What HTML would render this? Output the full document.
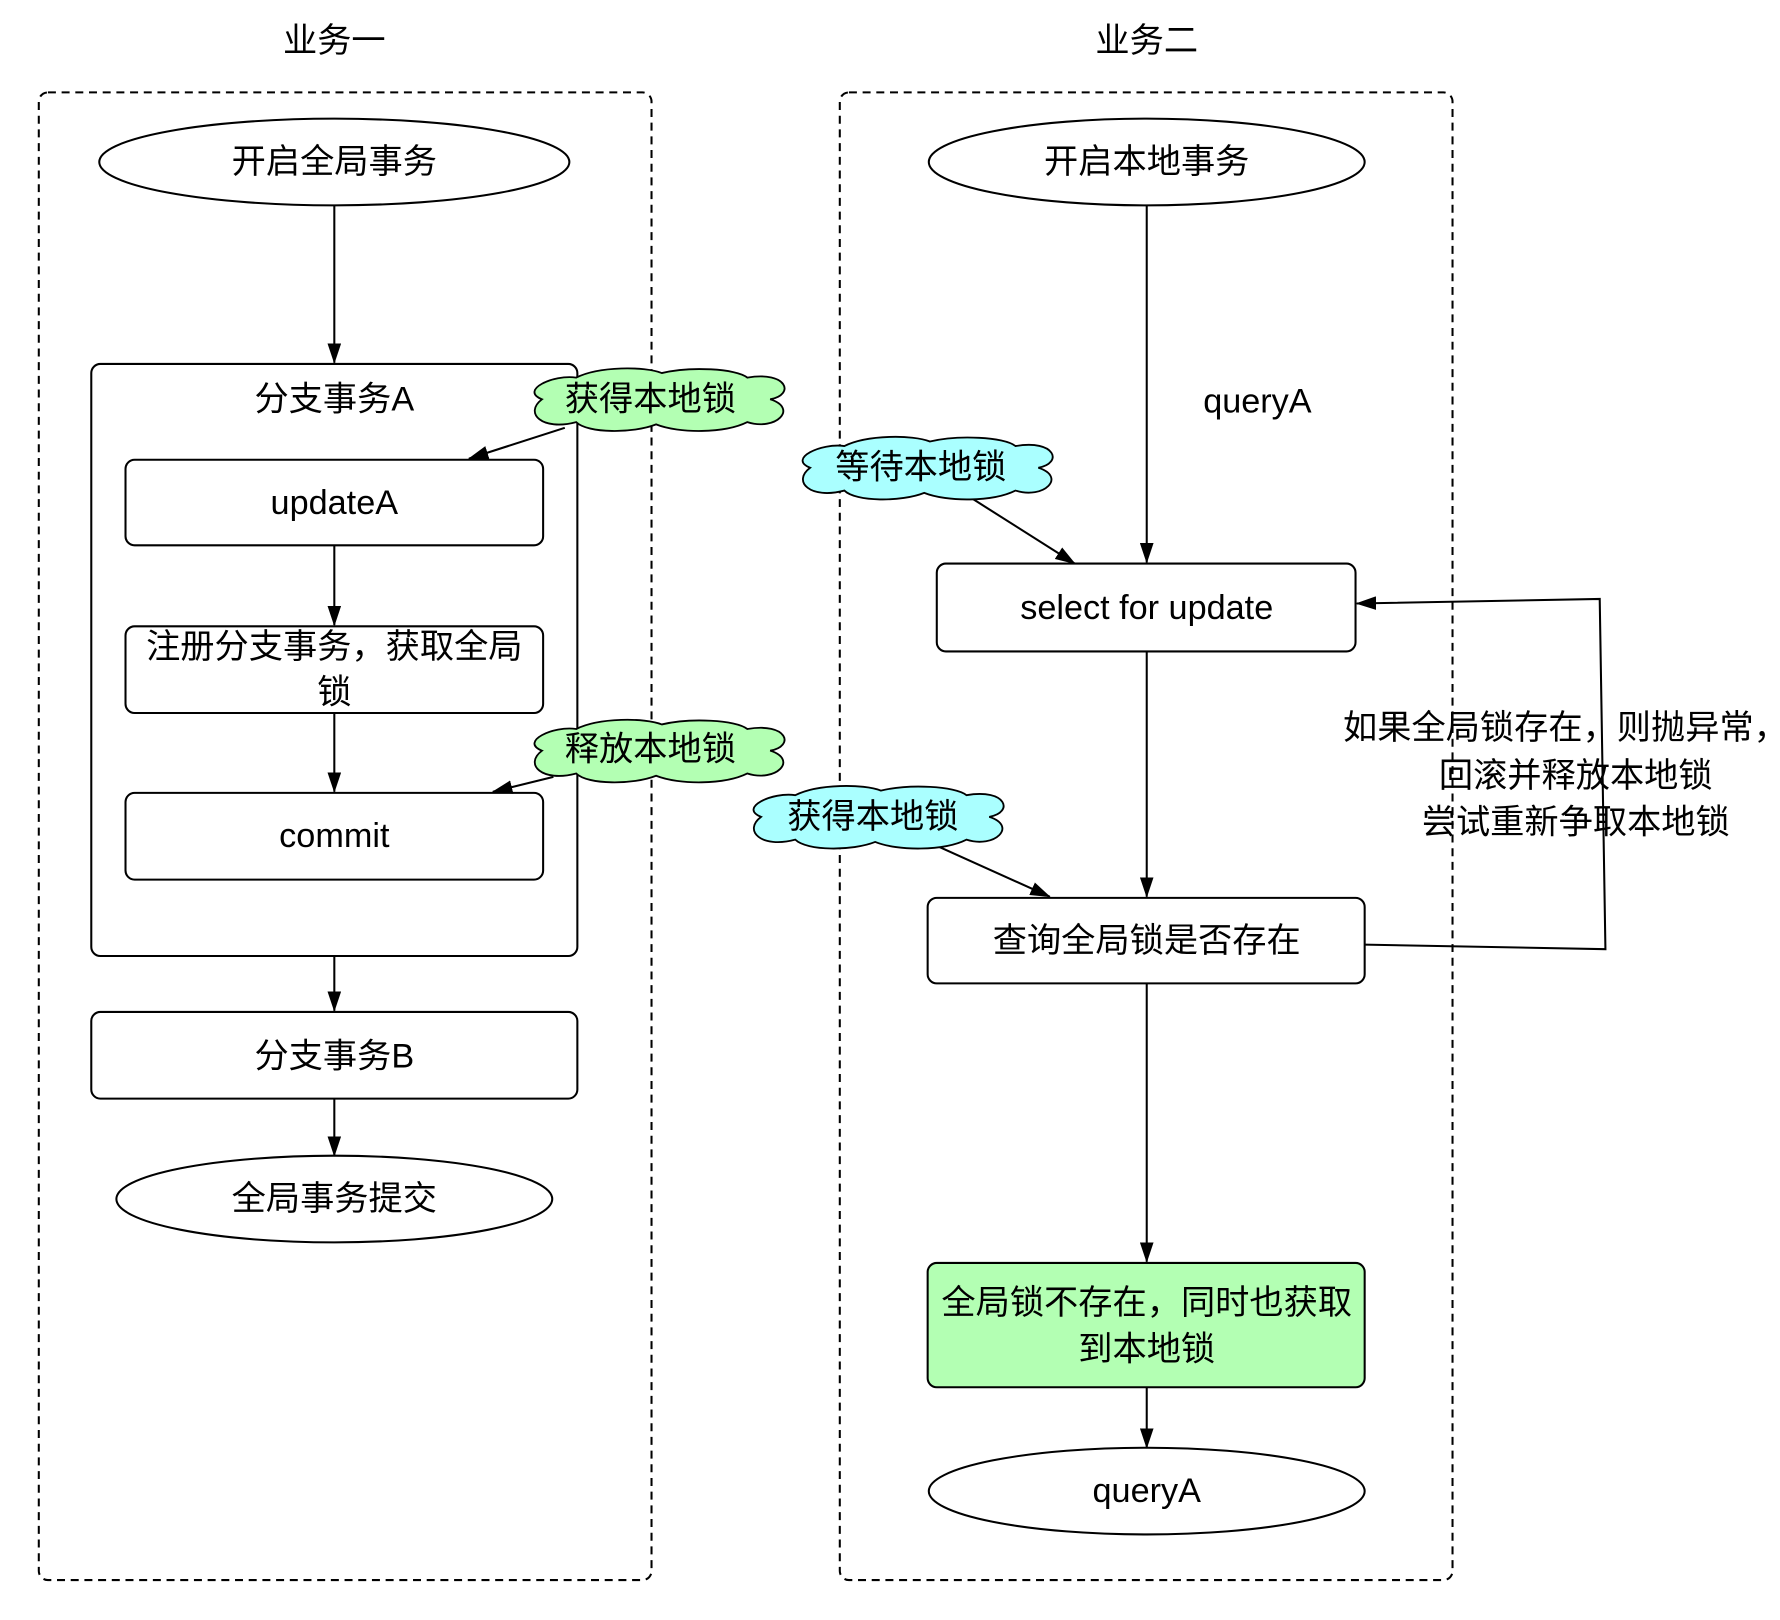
<!DOCTYPE html>
<html><head><meta charset="utf-8"><style>
html,body{margin:0;padding:0;background:#fff;}
svg{display:block;}
text{font-family:"Liberation Sans","Noto Sans CJK SC",sans-serif;font-size:30px;fill:#000;text-anchor:middle;dominant-baseline:central;}
</style></head><body>
<svg width="1780" height="1620" viewBox="0 0 1560 1420" preserveAspectRatio="none" xmlns="http://www.w3.org/2000/svg">
<defs>
<marker id="a" markerWidth="18" markerHeight="12" refX="17" refY="6" orient="auto" markerUnits="userSpaceOnUse"><path d="M0,0 L18,6 L0,12 Z" fill="#000"/></marker>
<path id="cloud" d="M20,28 C0,20 30,6 50,9 C70,-1 110,-1 125,5 C150,-1 190,1 200,9 C235,3 242,24 220,28 C245,36 225,56 200,48 C180,58 140,58 120,50 C100,58 60,58 50,48 C20,56 4,40 20,28 Z" stroke="#000" stroke-width="1.6"/>
</defs>
<g fill="none" stroke="#000" stroke-width="1.8">
<rect x="34" y="81" width="537" height="1304" rx="8" stroke-dasharray="7,5"/>
<rect x="736" y="81" width="537" height="1304" rx="8" stroke-dasharray="7,5"/>
<ellipse cx="293" cy="142" rx="206" ry="38"/>
<rect x="80" y="319" width="426" height="519" rx="8"/>
<rect x="110" y="403" width="366" height="75" rx="8"/>
<rect x="110" y="549" width="366" height="76" rx="8"/>
<rect x="110" y="695" width="366" height="76" rx="8"/>
<rect x="80" y="887" width="426" height="76" rx="8"/>
<ellipse cx="293" cy="1051" rx="191" ry="38"/>
<ellipse cx="1005" cy="142" rx="191" ry="38"/>
<rect x="821" y="494" width="367" height="77" rx="8"/>
<rect x="813" y="787" width="383" height="75" rx="8"/>
<rect x="813" y="1107" width="383" height="109" rx="8" fill="#b3ffb3"/>
<ellipse cx="1005" cy="1307" rx="191" ry="38"/>
<g marker-end="url(#a)">
<line x1="293" y1="180" x2="293" y2="318"/>
<line x1="495" y1="375" x2="411" y2="402"/>
<line x1="293" y1="478" x2="293" y2="548"/>
<line x1="293" y1="625" x2="293" y2="694"/>
<line x1="485" y1="681" x2="432" y2="694"/>
<line x1="293" y1="838" x2="293" y2="886"/>
<line x1="293" y1="963" x2="293" y2="1013"/>
<line x1="1005" y1="180" x2="1005" y2="493"/>
<line x1="852" y1="437" x2="942" y2="494"/>
<line x1="1005" y1="571" x2="1005" y2="786"/>
<line x1="820" y1="741" x2="920" y2="786"/>
<line x1="1005" y1="862" x2="1005" y2="1106"/>
<line x1="1005" y1="1216" x2="1005" y2="1269"/>
<polyline points="1196,828 1407,832 1402,525 1189,529"/>
</g>
</g>
<use href="#cloud" transform="translate(455,322)" fill="#b3ffb3"/>
<use href="#cloud" transform="translate(455,630)" fill="#b3ffb3"/>
<use href="#cloud" transform="translate(690,382)" fill="#aaffff"/>
<use href="#cloud" transform="translate(647,688)" fill="#aaffff"/>
<text x="293" y="36">业务一</text>
<text x="1005" y="36">业务二</text>
<text x="293" y="142">开启全局事务</text>
<text x="293" y="350">分支事务A</text>
<text x="570" y="350">获得本地锁</text>
<text x="293" y="441">updateA</text>
<text x="293" y="567">注册分支事务，获取全局</text>
<text x="293" y="607">锁</text>
<text x="570" y="657">释放本地锁</text>
<text x="293" y="733">commit</text>
<text x="293" y="926">分支事务B</text>
<text x="293" y="1051">全局事务提交</text>
<text x="1005" y="142">开启本地事务</text>
<text x="1102" y="352">queryA</text>
<text x="807" y="410">等待本地锁</text>
<text x="1005" y="533">select for update</text>
<text x="765" y="716">获得本地锁</text>
<text x="1005" y="825">查询全局锁是否存在</text>
<text x="1372" y="638">如果全局锁存在，则抛异常，</text>
<text x="1381" y="680">回滚并释放本地锁</text>
<text x="1381" y="721">尝试重新争取本地锁</text>
<text x="1005" y="1142">全局锁不存在，同时也获取</text>
<text x="1005" y="1183">到本地锁</text>
<text x="1005" y="1307">queryA</text>
</svg>
</body></html>
